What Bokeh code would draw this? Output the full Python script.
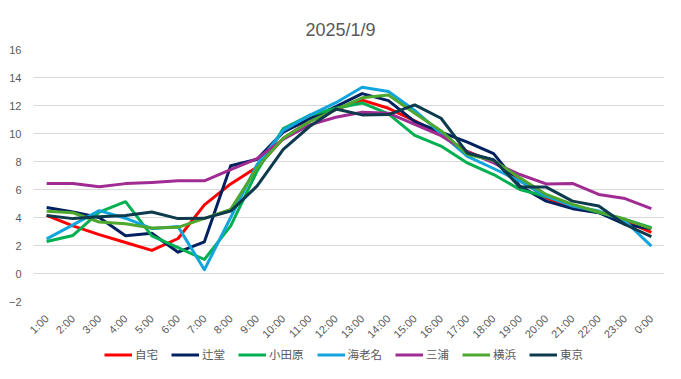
from bokeh.plotting import figure
from bokeh.models import FactorRange, Range1d, FixedTicker, Legend, LegendItem
from bokeh.layouts import column
from bokeh.embed import file_html
from bokeh.resources import INLINE
import math

hours = ["1:00", "2:00", "3:00", "4:00", "5:00", "6:00", "7:00", "8:00", "9:00", "10:00",
         "11:00", "12:00", "13:00", "14:00", "15:00", "16:00", "17:00", "18:00", "19:00",
         "20:00", "21:00", "22:00", "23:00", "0:00"]

jitaku = [4.15, 3.4, 2.78, 2.21, 1.65, 2.5, 4.9, 6.4, 7.6, 9.65, 10.9, 11.7, 12.38, 11.8,
          10.9, 9.9, 8.72, 7.95, 6.71, 5.41, 4.7, 4.35, 3.75, 2.93]
tsujido = [4.72, 4.4, 4.0, 2.7, 2.88, 1.52, 2.26, 7.7, 8.15, 10.1, 11.05, 11.92, 12.85, 12.35,
           10.85, 10.1, 9.38, 8.56, 6.24, 5.17, 4.63, 4.34, 3.5, 3.2]
odawara = [2.29, 2.72, 4.39, 5.13, 2.69, 1.85, 1.0, 3.4, 7.3, 10.35, 11.3, 11.8, 12.18, 11.4,
           9.87, 9.1, 7.9, 7.07, 6.0, 5.5, 4.9, 4.35, 3.87, 3.27]
ebina = [2.47, 3.47, 4.49, 3.95, 3.2, 3.35, 0.27, 4.0, 7.78, 10.22, 11.3, 12.2, 13.3, 13.0,
         11.65, 10.0, 8.37, 7.5, 6.6, 5.53, 4.82, 4.46, 3.75, 1.95]
miura = [6.43, 6.43, 6.19, 6.42, 6.5, 6.62, 6.62, 7.42, 8.2, 9.6, 10.62, 11.16, 11.52, 11.45,
         10.65, 9.85, 8.7, 7.9, 7.07, 6.4, 6.43, 5.65, 5.35, 4.63]
yokohama = [4.44, 4.34, 3.68, 3.56, 3.25, 3.3, 3.94, 4.58, 7.54, 9.67, 10.85, 11.7, 12.55, 12.75,
            11.45, 10.2, 8.5, 8.08, 6.83, 5.65, 4.94, 4.39, 3.87, 3.21]
tokyo = [4.15, 3.92, 4.06, 4.15, 4.39, 3.92, 3.94, 4.46, 6.24, 8.87, 10.5, 11.75, 11.33, 11.35,
         12.04, 11.09, 8.61, 8.13, 6.17, 6.17, 5.17, 4.82, 3.5, 2.64]

series_names = ["自宅", "辻堂", "小田原", "海老名", "三浦", "横浜", "東京"]
series_values = [jitaku, tsujido, odawara, ebina, miura, yokohama, tokyo]
series_colors = ["#FF0000", "#002060", "#00B050", "#12A5DD", "#A02B93", "#4EA72E", "#0E3A4E"]
y_ticks = [-2, 0, 2, 4, 6, 8, 10, 12, 14, 16]

p = figure(width=665, height=347, x_range=FactorRange(factors=hours), y_range=Range1d(-2, 16),
           output_backend="svg", toolbar_location=None, title="2025/1/9",
           min_border_left=33, min_border_right=1, min_border_top=49, min_border_bottom=45)
p.background_fill_color = "white"
p.border_fill_color = "white"
p.outline_line_color = None

p.title.align = "left"
p.title.offset = 272
p.title.text_font = "Liberation Sans"
p.title.text_font_size = "18px"
p.title.text_font_style = "normal"
p.title.text_color = "#595959"
p.title.standoff = 19

p.yaxis.ticker = FixedTicker(ticks=y_ticks)
p.ygrid.grid_line_color = "#D9D9D9"
p.ygrid.grid_line_width = 1
p.xgrid.grid_line_color = None
for ax in (p.xaxis, p.yaxis):
    ax.axis_line_color = None
    ax.major_tick_line_color = None
    ax.minor_tick_line_color = None
    ax.major_label_text_color = "#595959"
    ax.major_label_text_font = "Liberation Sans"
    ax.major_label_text_font_size = "11px"
p.yaxis.major_label_standoff = 6
p.xaxis.major_label_orientation = math.pi / 4
p.xaxis.major_label_standoff = 9

for vals, col in zip(series_values, series_colors):
    p.line(x=hours, y=vals, line_color=col, line_width=3, line_join="round")

# legend strip below the chart (carries the same series styles; its lines lie off-range)
lg = figure(width=665, height=16, x_range=Range1d(0, 1), y_range=Range1d(0, 1),
            output_backend="svg", toolbar_location=None, x_axis_type=None, y_axis_type=None,
            min_border_left=33, min_border_right=1, min_border_top=0, min_border_bottom=0)
lg.outline_line_color = None
lg.xgrid.grid_line_color = None
lg.ygrid.grid_line_color = None
lg.background_fill_color = "white"
lg.border_fill_color = "white"
items = []
for name, col in zip(series_names, series_colors):
    r = lg.line(x=[5, 6], y=[5, 6], line_color=col, line_width=3)
    items.append(LegendItem(label=name, renderers=[r]))
legend = Legend(items=items, orientation="horizontal", location=(71, 1),
                glyph_width=28, glyph_height=13, label_standoff=3, spacing=13,
                padding=0, margin=0, border_line_color=None, background_fill_alpha=0,
                label_text_font="Noto Sans CJK JP", label_text_font_size="11.5px",
                label_text_color="#595959", label_height=13)
lg.add_layout(legend)

layout = column(p, lg, spacing=0)
open("out.html", "w").write(file_html(layout, INLINE))
